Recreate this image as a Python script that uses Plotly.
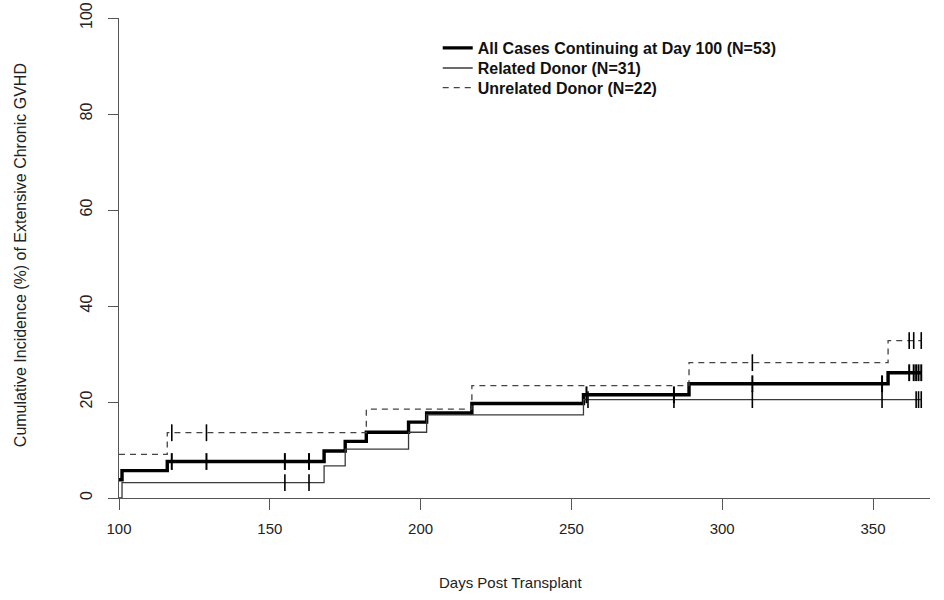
import numpy as np
import plotly.graph_objects as go

# ---- data ----
all_times = [100, 101, 116, 168, 175, 182, 196, 202, 217, 254, 289, 355, 366]
all_cif = [3.8, 5.7, 7.6, 9.8, 11.8, 13.7, 15.8, 17.7, 19.7, 21.5, 23.8, 26.1, 26.1]
all_censor = [117.5, 129, 155, 163, 255, 284, 310, 353, 362, 363.5, 364.3, 365.1, 366]

rel_times = [100, 101, 168, 175, 196, 202, 254, 366]
rel_cif = [0, 3.2, 6.7, 10.2, 13.7, 17.3, 20.5, 20.5]
rel_censor = [155, 163, 255.5, 284, 310, 353, 364.3, 365.1, 366]

unrel_times = [100, 116, 182, 217, 289, 355, 366]
unrel_cif = [9.1, 13.6, 18.5, 23.4, 28.2, 32.8, 32.8]
unrel_censor = [117.5, 129, 310, 362, 363.5, 366]

x_ticks = [100, 150, 200, 250, 300, 350]
y_ticks = [0, 20, 40, 60, 80, 100]

names = ["All Cases Continuing at Day 100 (N=53)",
         "Related Donor (N=31)",
         "Unrelated Donor (N=22)"]


def step_at(times, vals, t):
    idx = np.searchsorted(np.array(times), np.array(t), side="right") - 1
    return np.array(vals)[idx]


series = [
    (all_times, all_cif, all_censor, dict(color="black", width=3.4), 2.0),
    (rel_times, rel_cif, rel_censor, dict(color="#3a3a3a", width=1.3), 1.6),
    (unrel_times, unrel_cif, unrel_censor, dict(color="#444444", width=1.3, dash="6px,5px"), 1.6),
]
legend_ids = ["legend", "legend2", "legend3"]
legend_tops = [0.973, 0.931, 0.890]

fig = go.Figure()
for name, lid, (t, v, c, line, mw) in zip(names, legend_ids, series):
    fig.add_trace(go.Scatter(x=t, y=v, mode="lines", line_shape="hv", line=line,
                             name=name, showlegend=True, legend=lid))
for name, (t, v, c, line, mw) in zip(names, series):
    fig.add_trace(go.Scatter(x=c, y=step_at(t, v, c), mode="markers",
                             marker=dict(symbol="line-ns", size=12,
                                         line=dict(color="black", width=mw)),
                             showlegend=False, hoverinfo="skip"))

leg_style = dict(x=0.393, xanchor="left", yanchor="top",
                 font=dict(size=16, weight="bold", color="#111"),
                 bgcolor="rgba(0,0,0,0)")
fig.update_layout(
    width=944, height=600,
    margin=dict(l=119, r=14, t=18, b=102, autoexpand=False),
    paper_bgcolor="white", plot_bgcolor="white",
    font=dict(family="Liberation Sans, Arial, sans-serif", size=15, color="#222"),
    legend=dict(y=legend_tops[0], **leg_style),
    legend2=dict(y=legend_tops[1], **leg_style),
    legend3=dict(y=legend_tops[2], **leg_style),
)
fig.update_xaxes(range=[100, 368.9], tickvals=x_ticks, ticks="outside", ticklen=11,
                 tickcolor="#555", showline=True, linecolor="#555", linewidth=1,
                 showgrid=False, zeroline=False, ticklabelstandoff=6,
                 tickfont=dict(size=15), automargin=False)
fig.update_yaxes(range=[0, 100], tickvals=y_ticks, ticks="outside", ticklen=10,
                 tickcolor="#555", showline=True, linecolor="#555", linewidth=1,
                 showgrid=False, zeroline=False, tickangle=-90, ticklabelstandoff=10,
                 tickfont=dict(size=16), automargin=False)

fig.add_annotation(text="Days Post Transplant", xref="paper", yref="paper",
                   x=0.483, y=-0.177, showarrow=False, xanchor="center", yanchor="middle",
                   font=dict(size=15, color="#222"))
fig.add_annotation(text="Cumulative Incidence (%) of Extensive Chronic GVHD",
                   xref="paper", yref="paper", x=-0.122, y=0.506, textangle=-90,
                   showarrow=False, xanchor="center", yanchor="middle",
                   font=dict(size=16, color="#222"))

fig.write_html("out.html")
